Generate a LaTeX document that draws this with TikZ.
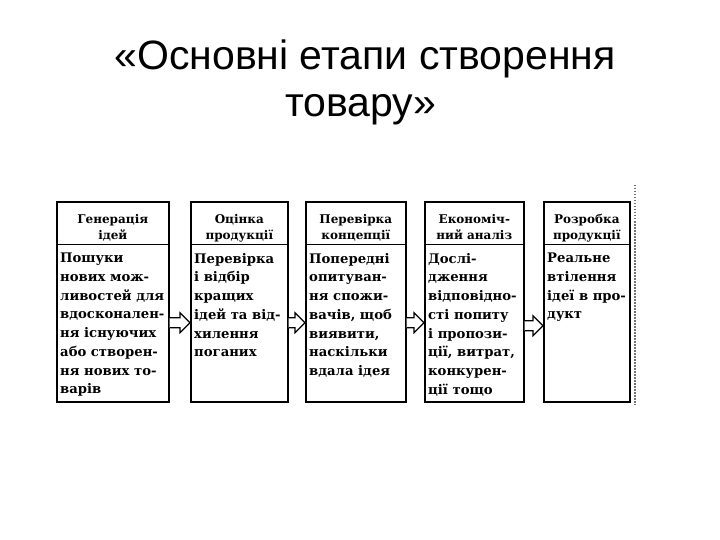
\documentclass[tikz,border=0pt]{standalone}
\usepackage{fontspec}
\setmainfont{DejaVu Serif}
\newfontfamily\titlefont{Liberation Sans}
\usetikzlibrary{calc}
\begin{document}
\begin{tikzpicture}[x=1pt,y=-1pt,
  stagebox/.style={draw, line width=1.6pt, anchor=north west, inner sep=0pt},
  headtext/.style={anchor=base, align=center, inner sep=0pt, font=\fontsize{12}{16}\selectfont\bfseries},
  bodytext/.style={anchor=north west, align=left, inner sep=0pt, font=\fontsize{13.2}{18.7}\selectfont\bfseries},
  blockarr/.style={draw, line width=1.2pt, fill=white, line join=miter},
  scanline/.style={draw=black!55, line width=2pt, dash pattern=on 1.5pt off 1.5pt}
]
\useasboundingbox (0,0) rectangle (720,540);
% title
\node[anchor=base, font=\titlefont\fontsize{41}{47}\selectfont, inner sep=0pt] (t1) at (365,70) {«Основні етапи створення};
\node[anchor=base, font=\titlefont\fontsize{41}{47}\selectfont, inner sep=0pt] (t2) at (361,117) {товару»};
% boxes
\node[stagebox, minimum width=112pt, minimum height=200pt] (b1) at (56,201) {};
\node[stagebox, minimum width=97pt, minimum height=200pt] (b2) at (190,201) {};
\node[stagebox, minimum width=100pt, minimum height=200pt] (b3) at (305,201) {};
\node[stagebox, minimum width=99pt, minimum height=200pt] (b4) at (424,201) {};
\node[stagebox, minimum width=86pt, minimum height=200pt] (b5) at (543,201) {};
\foreach \b in {b1,b2,b3,b4,b5}{
  \draw[line width=1pt] (\b.north west |- 0,244) -- (\b.north east |- 0,244);
}
% headers
\node[headtext] (h1a) at ($(b1.north)+(0,23)$) {Генерація};
\node[headtext] (h1b) at ($(b1.north)+(0,39)$) {ідей};
\node[headtext] (h2a) at ($(b2.north)+(0,23)$) {Оцінка};
\node[headtext] (h2b) at ($(b2.north)+(0,39)$) {продукції};
\node[headtext] (h3a) at ($(b3.north)+(0,23)$) {Перевірка};
\node[headtext] (h3b) at ($(b3.north)+(0,39)$) {концепції};
\node[headtext] (h4a) at ($(b4.north)+(0,23)$) {Економіч-};
\node[headtext] (h4b) at ($(b4.north)+(0,39)$) {ний аналіз};
\node[headtext] (h5a) at ($(b5.north)+(0,23)$) {Розробка};
\node[headtext] (h5b) at ($(b5.north)+(0,39)$) {продукції};
% bodies
\node[bodytext] (t1b) at ($(b1.north west)+(4,52)$) {Пошуки\\нових мож-\\ливостей для\\вдосконален-\\ня існуючих\\або створен-\\ня нових то-\\варів};
\node[bodytext] (t2b) at ($(b2.north west)+(4,52)$) {Перевірка\\і відбір\\кращих\\ідей та від-\\хилення\\поганих};
\node[bodytext] (t3b) at ($(b3.north west)+(4,52)$) {Попередні\\опитуван-\\ня спожи-\\вачів, щоб\\виявити,\\наскільки\\вдала ідея};
\node[bodytext] (t4b) at ($(b4.north west)+(4,52)$) {Дослі-\\дження\\відповідно-\\сті попиту\\і пропози-\\ції, витрат,\\конкурен-\\ції тощо};
\node[bodytext] (t5b) at ($(b5.north west)+(4,52)$) {Реальне\\втілення\\ідеї в про-\\дукт};
% arrows
\foreach \s/\e/\dy in {b1/b2/21, b2/b3/21, b3/b4/21, b4/b5/24}{
  \coordinate (s) at ($(\s.east)+(0,\dy)$);
  \coordinate (e) at ($(\e.west)+(0,\dy)$);
  \draw[blockarr] ($(s)+(0,-5)$) -- ($(e)+(-10,-5)$) -- ($(e)+(-10,-10)$) -- (e) -- ($(e)+(-10,10)$) -- ($(e)+(-10,5)$) -- ($(s)+(0,5)$);
}
% scan edge
\coordinate (sa) at (635,185);
\coordinate (sb) at (635,405);
\draw[scanline] (sa) -- (sb);
\end{tikzpicture}
\end{document}
